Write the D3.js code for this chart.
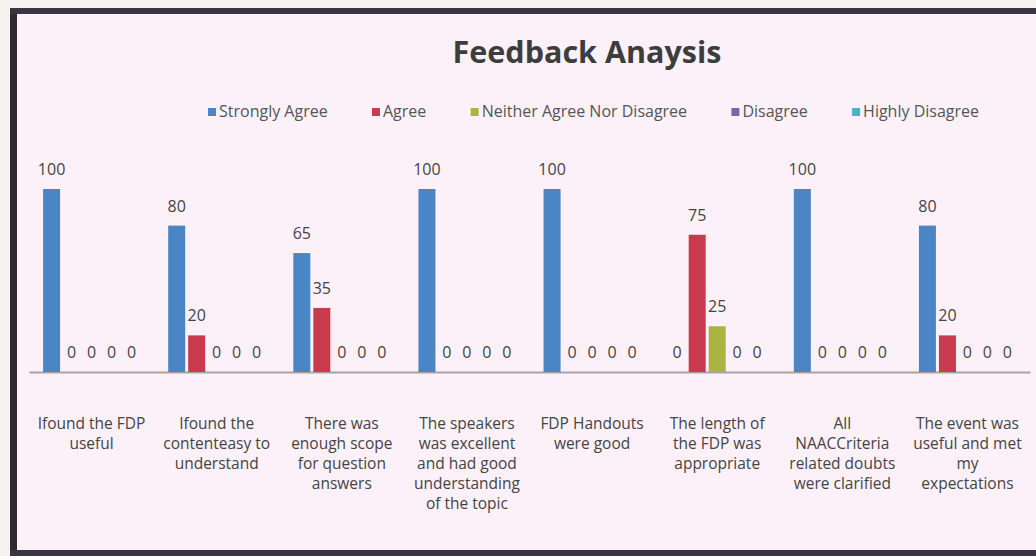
<!DOCTYPE html>
<html>
<head>
<meta charset="utf-8">
<script src="https://cdn.jsdelivr.net/npm/d3@7"></script>
<style>
  body { margin: 0; background: #f6f2ef; }
  svg { display: block; font-family: "Open Sans", sans-serif; }
</style>
</head>
<body>
<div id="chart"></div>
<script>
// categories (questions), each one wrapped over several lines
const categories = [
  ["Ifound the FDP", "useful"],
  ["Ifound the", "contenteasy to", "understand"],
  ["There was", "enough scope", "for question", "answers"],
  ["The speakers", "was excellent", "and had good", "understanding", "of the topic"],
  ["FDP Handouts", "were good"],
  ["The length of", "the FDP was", "appropriate"],
  ["All", "NAACCriteria", "related doubts", "were clarified"],
  ["The event was", "useful and met", "my", "expectations"]
];

const seriesNames = ["Strongly Agree", "Agree", "Neither Agree Nor Disagree", "Disagree", "Highly Disagree"];
const seriesColors = ["#4a86c6", "#c93a4c", "#a9b443", "#7f63a6", "#4bb0c9"];

// one array per series, in category order
const stronglyAgree = [100, 80, 65, 100, 100, 0, 100, 80];
const agree         = [0, 20, 35, 0, 0, 75, 0, 20];
const neither       = [0, 0, 0, 0, 0, 25, 0, 0];
const disagree      = [0, 0, 0, 0, 0, 0, 0, 0];
const highlyDis     = [0, 0, 0, 0, 0, 0, 0, 0];
const seriesValues = [stronglyAgree, agree, neither, disagree, highlyDis];

const svgWidth = 1036;
const svgHeight = 556;

const svg = d3.select("#chart")
  .append("svg")
  .attr("width", svgWidth)
  .attr("height", svgHeight);

// the chart box of the photographed page
svg.append("rect")
  .attr("x", 0).attr("y", 0)
  .attr("width", svgWidth).attr("height", svgHeight)
  .attr("fill", "#f6f2ef");

svg.append("rect")
  .attr("x", 13).attr("y", 11)
  .attr("width", svgWidth - 13).attr("height", 541)
  .attr("fill", "#fcf1f9");

svg.append("line")
  .attr("x1", 13.5).attr("x2", 13.5).attr("y1", 8).attr("y2", 556)
  .attr("stroke", "#2e2a33").attr("stroke-width", 7);
svg.append("line")
  .attr("x1", 10).attr("x2", svgWidth).attr("y1", 11).attr("y2", 11)
  .attr("stroke", "#3a3540").attr("stroke-width", 6);
svg.append("line")
  .attr("x1", 10).attr("x2", svgWidth).attr("y1", 553).attr("y2", 553)
  .attr("stroke", "#3a3540").attr("stroke-width", 6);

// scales
const x0 = d3.scaleBand()
  .domain(d3.range(categories.length))
  .range([29, 1030]);

const x1 = d3.scaleBand()
  .domain(d3.range(seriesNames.length))
  .range([0, 97])
  .paddingInner(0.15);

const y = d3.scaleLinear()
  .domain([0, 100])
  .range([372, 189]);

// category axis
const xAxis = d3.axisBottom(x0).tickSize(0).tickFormat("");
const axisG = svg.append("g")
  .attr("transform", `translate(0, ${y(0)})`)
  .call(xAxis);
axisG.select(".domain")
  .attr("stroke", "#a7a3a8")
  .attr("stroke-width", 2);

// bars
const groups = svg.append("g")
  .selectAll("g")
  .data(categories)
  .join("g")
  .attr("transform", (d, i) => `translate(${x0(i) + x0.bandwidth() / 2 - 48.5}, 0)`);

groups.selectAll("rect")
  .data((d, i) => seriesValues.map((vals, s) => ({ s: s, v: vals[i] })))
  .join("rect")
  .attr("x", d => x1(d.s))
  .attr("width", x1.bandwidth())
  .attr("y", d => y(d.v))
  .attr("height", d => y(0) - y(d.v))
  .attr("fill", d => seriesColors[d.s]);

groups.selectAll("text.val")
  .data((d, i) => seriesValues.map((vals, s) => ({ s: s, v: vals[i] })))
  .join("text")
  .attr("class", "val")
  .attr("x", d => x1(d.s) + x1.bandwidth() / 2)
  .attr("y", d => y(d.v) - 14)
  .attr("text-anchor", "middle")
  .attr("font-size", 16)
  .attr("fill", "#444")
  .text(d => d.v);

// category labels
const labels = svg.append("g")
  .selectAll("text")
  .data(categories)
  .join("text")
  .attr("text-anchor", "middle")
  .attr("font-size", 15.5)
  .attr("fill", "#444")
  .attr("transform", (d, i) => `translate(${x0(i) + x0.bandwidth() / 2}, 429)`);

labels.selectAll("tspan")
  .data(d => d)
  .join("tspan")
  .attr("x", 0)
  .attr("y", (d, i) => i * 20)
  .text(d => d);

// title
svg.append("text")
  .attr("x", 587)
  .attr("y", 63)
  .attr("text-anchor", "middle")
  .attr("font-size", 30.5)
  .attr("font-weight", "bold")
  .attr("fill", "#3d3d3d")
  .text("Feedback Anaysis");

// legend: measure the names, then spread the items between 208 and 979
const legend = svg.append("g").attr("transform", "translate(0, 112)");
const legendTexts = seriesNames.map(function (name, i) {
  return legend.append("text")
    .attr("y", 5)
    .attr("font-size", 16)
    .attr("fill", "#555")
    .text(name);
});
const textSum = d3.sum(legendTexts, t => t.node().getComputedTextLength());
const gap = (979 - 208 - textSum - 5 * 11) / 4;
let lx = 208;
legendTexts.forEach(function (t, i) {
  legend.append("rect")
    .attr("x", lx).attr("y", -4)
    .attr("width", 8).attr("height", 8)
    .attr("fill", seriesColors[i]);
  t.attr("x", lx + 11);
  lx += 11 + t.node().getComputedTextLength() + gap;
});
</script>
</body>
</html>
